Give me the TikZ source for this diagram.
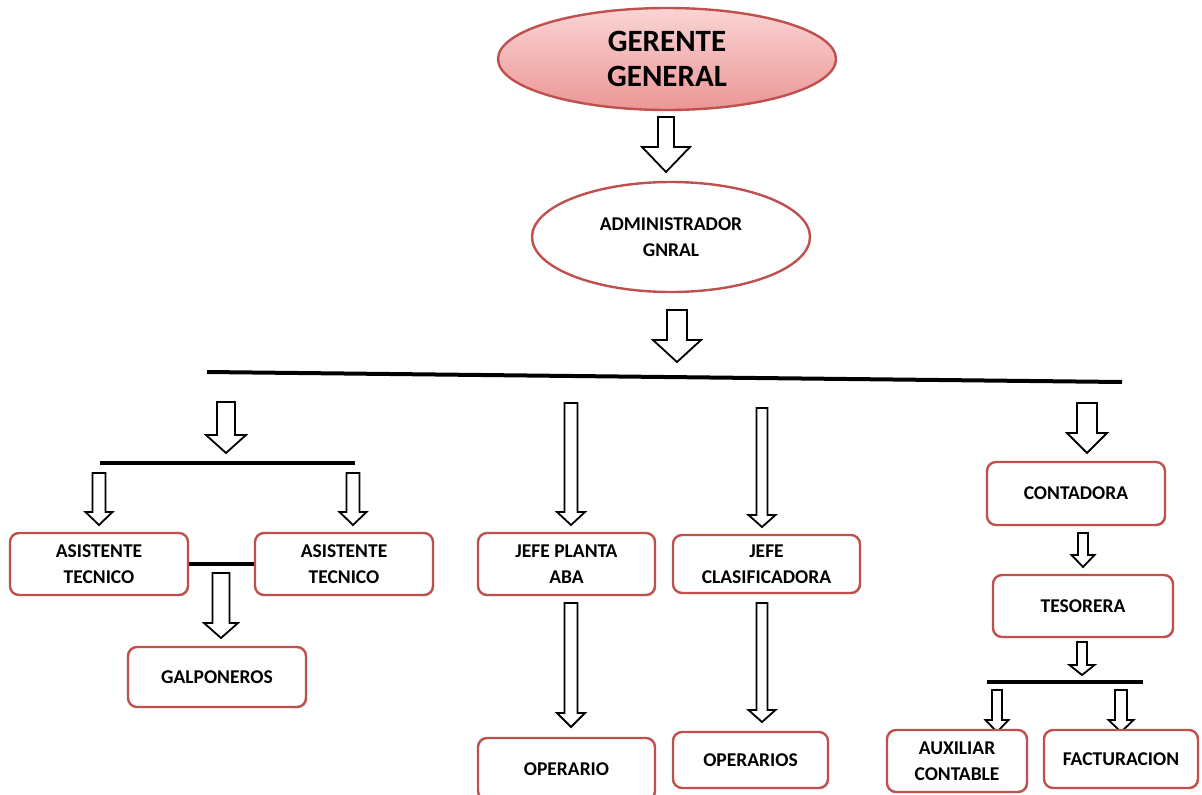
\documentclass[tikz,border=0pt]{standalone}
\usepackage{fontspec}
\setmainfont{Carlito}
\usetikzlibrary{shapes.geometric,shadows}
\definecolor{boxred}{RGB}{192,80,77}
\definecolor{pinktop}{RGB}{250,212,212}
\definecolor{pinkbot}{RGB}{236,150,150}
\newcommand\boxfont{\bfseries\fontsize{19.5}{25.5}\selectfont}
\newcommand\bigfont{\bfseries\fontsize{31}{35}\selectfont}
% block arrow: x, top, head base, tip, shaft half width, head half width
\newcommand\blkarrow[6]{%
  \draw[barrow] (#1-#5,#2) -- (#1+#5,#2) -- (#1+#5,#3) -- (#1+#6,#3) -- (#1,#4)
    -- (#1-#6,#3) -- (#1-#5,#3) -- cycle;}
\tikzset{
  box/.style={draw=boxred, line width=2.4pt, rounded corners=9pt, fill=white,
    align=center, font=\boxfont, inner sep=0pt,
    drop shadow={shadow xshift=1.2pt, shadow yshift=-1.2pt, fill=black, opacity=0.15}},
  oval/.style={ellipse, draw=boxred, line width=2.4pt, align=center, inner sep=0pt},
  barrow/.style={draw=black, line width=1.8pt, fill=white, line join=miter},
  bar/.style={draw=black, line width=4pt}
}
\begin{document}
\begin{tikzpicture}[x=1pt,y=-1pt]
\useasboundingbox (0,0) rectangle (1202,795);
\begin{scope}
\clip (0,0) rectangle (1202,795);
% top ellipses
\node[oval, minimum width=338pt, minimum height=102pt, top color=pinktop, bottom color=pinkbot,
  font=\bigfont] (gg) at (667,59) {GERENTE\\GENERAL};
\node[oval, minimum width=278pt, minimum height=110pt, fill=white, font=\boxfont] (adm) at (671,237) {ADMINISTRADOR\\GNRAL};
\blkarrow{666}{117}{147}{172}{8}{24}
\blkarrow{677}{310}{340}{362}{10}{24}
% main bar
\coordinate (mbL) at (207,372);
\coordinate (mbR) at (1122,382);
\draw[bar] (mbL) -- (mbR);

% left branch
\blkarrow{226}{402}{435}{453}{9}{20}
\coordinate (lbL) at (100,463);
\coordinate (lbR) at (355,463);
\draw[bar] (lbL) -- (lbR);
\blkarrow{99}{473}{512}{525}{6.5}{13.5}
\blkarrow{353}{473}{512}{525}{6.5}{13.5}
\node[box, minimum width=178pt, minimum height=62pt] (at1) at (99,564) {ASISTENTE\\TECNICO};
\node[box, minimum width=178pt, minimum height=62pt] (at2) at (344,564) {ASISTENTE\\TECNICO};
\draw[bar] (at1.east) -- (at2.west);
\blkarrow{221}{573}{623}{638}{8.5}{17}
\node[box, minimum width=178pt, minimum height=60pt] (galp) at (217,677) {GALPONEROS};

% middle branches
\blkarrow{571}{403}{512}{525}{6.5}{14}
\node[box, minimum width=177pt, minimum height=62pt] (jpa) at (566.5,564) {JEFE PLANTA\\ABA};
\blkarrow{571}{603}{713}{727}{6.5}{14}
\node[box, minimum width=177pt, minimum height=62pt] (op1) at (566.5,769) {OPERARIO};

\blkarrow{762}{408}{515}{527}{5.5}{13.5}
\node[box, minimum width=187pt, minimum height=58pt] (jcl) at (766.5,564) {JEFE\\CLASIFICADORA};
\blkarrow{762}{603}{710}{722}{5.5}{13.5}
\node[box, minimum width=155pt, minimum height=56pt] (op2) at (750.5,760) {OPERARIOS};

% right branch
\blkarrow{1087}{403}{433}{453}{10}{20}
\node[box, minimum width=178pt, minimum height=63pt] (cont) at (1076,493.5) {CONTADORA};
\blkarrow{1083}{533}{555}{567}{5}{11.5}
\node[box, minimum width=180pt, minimum height=62pt] (tes) at (1083,606) {TESORERA};
\blkarrow{1082}{642}{665}{675}{5}{12.5}
\coordinate (rbL) at (987,682);
\coordinate (rbR) at (1143,682);
\draw[bar] (rbL) -- (rbR);
\blkarrow{997}{690}{720}{732}{5}{11.5}
\blkarrow{1121}{690}{720}{732}{6}{12.5}
\node[box, minimum width=140pt, minimum height=62pt] (aux) at (957,761) {AUXILIAR\\CONTABLE};
\node[box, minimum width=154pt, minimum height=58pt] (fact) at (1121,759) {FACTURACION};
\end{scope}
\end{tikzpicture}
\end{document}
